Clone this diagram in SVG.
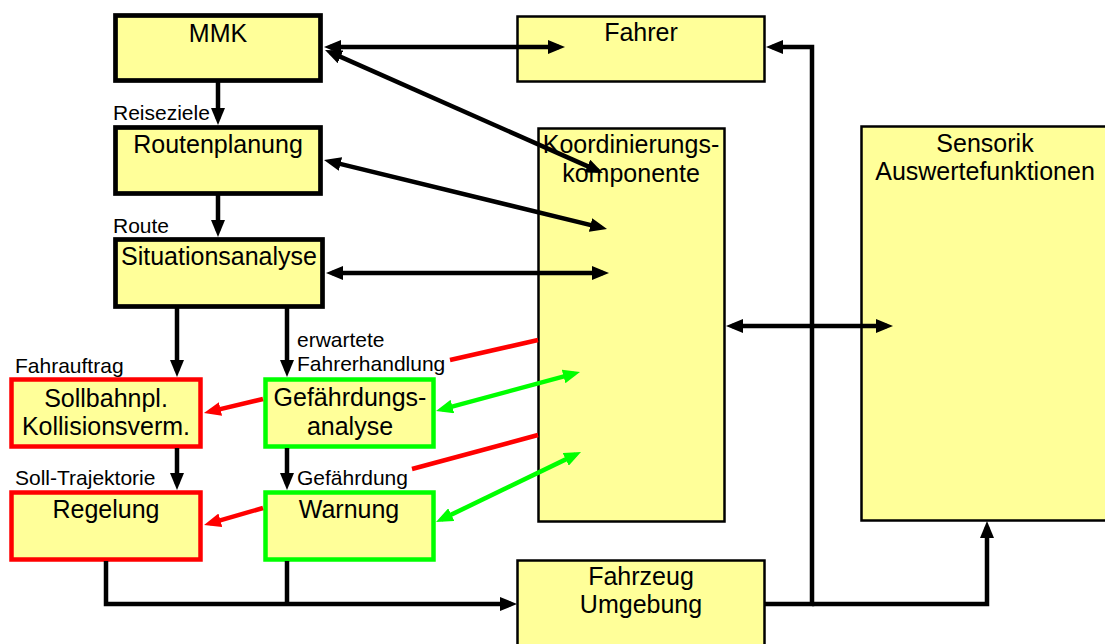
<svg xmlns="http://www.w3.org/2000/svg" width="1105" height="644" viewBox="0 0 1105 644">
<style>
text{font-family:"Liberation Sans",Arial,sans-serif;fill:#000}
.n{font-size:25px;text-anchor:middle}
.l{font-size:21px}
.box{fill:#ffff99}
.thick{stroke:#000;stroke-width:4.7}
.red{stroke:#ff0000;stroke-width:4.5}
.grn{stroke:#00ff00;stroke-width:4.5}
.thin{stroke:#000;stroke-width:2.5}
.c{fill:none;stroke-width:4.5}
.k{stroke:#000}
.r{stroke:#ff0000}
.g{stroke:#00ff00}
</style>
<defs>
<marker id="ak" markerUnits="userSpaceOnUse" markerWidth="17" markerHeight="14" viewBox="0 0 17 14" refX="11" refY="7" orient="auto-start-reverse"><path d="M0,0 L17,7 L0,14 z" fill="#000"/></marker>
<marker id="ar" markerUnits="userSpaceOnUse" markerWidth="17" markerHeight="14" viewBox="0 0 17 14" refX="11" refY="7" orient="auto-start-reverse"><path d="M0,0 L17,7 L0,14 z" fill="#ff0000"/></marker>
<marker id="ag" markerUnits="userSpaceOnUse" markerWidth="17" markerHeight="14" viewBox="0 0 17 14" refX="11" refY="7" orient="auto-start-reverse"><path d="M0,0 L17,7 L0,14 z" fill="#00ff00"/></marker>
</defs>
<rect width="1105" height="644" fill="#fff"/>
<g id="mmk"><rect class="box thick" x="115.5" y="15.5" width="205" height="65"/><text class="n" x="218" y="42">MMK</text></g>
<g id="routenplanung"><rect class="box thick" x="115.5" y="127.5" width="205" height="66"/><text class="n" x="218" y="153">Routenplanung</text></g>
<g id="situationsanalyse"><rect class="box thick" x="115.5" y="239.5" width="207" height="67"/><text class="n" x="219" y="265">Situationsanalyse</text></g>
<g id="sollbahnpl"><rect class="box red" x="11.5" y="379.5" width="189" height="67"/><text class="n" x="106" y="407">Sollbahnpl.</text><text class="n" x="106" y="435">Kollisionsverm.</text></g>
<g id="regelung"><rect class="box red" x="11.5" y="492.5" width="189" height="67"/><text class="n" x="106" y="518">Regelung</text></g>
<g id="gefaehrdungsanalyse"><rect class="box grn" x="265.5" y="379.5" width="168" height="67"/><text class="n" x="350" y="406">Gefährdungs-</text><text class="n" x="350" y="435">analyse</text></g>
<g id="warnung"><rect class="box grn" x="265.5" y="492.5" width="168" height="67"/><text class="n" x="349" y="518">Warnung</text></g>
<g id="fahrer"><rect class="box thin" x="517.5" y="16.5" width="247" height="65"/><text class="n" x="641" y="41">Fahrer</text></g>
<g id="koordinierung"><rect class="box thin" x="538.5" y="128.5" width="186" height="393"/><text class="n" x="631" y="153">Koordinierungs-</text><text class="n" x="631" y="182">komponente</text></g>
<g id="sensorik"><rect class="box thin" x="861.5" y="126.5" width="250" height="394"/><text class="n" x="985" y="152">Sensorik</text><text class="n" x="985" y="180">Auswertefunktionen</text></g>
<g id="fahrzeug"><rect class="box thin" x="517.5" y="560.5" width="247" height="90"/><text class="n" x="641" y="585">Fahrzeug</text><text class="n" x="641" y="613">Umgebung</text></g>
<g id="connectors">
<path class="c k" d="M330,47 H559" marker-start="url(#ak)" marker-end="url(#ak)"/>
<path class="c k" d="M330.5,52.4 L597.5,170.6" marker-start="url(#ak)" marker-end="url(#ak)"/>
<path class="c k" d="M329.8,161.4 L601.2,227.6" marker-start="url(#ak)" marker-end="url(#ak)"/>
<path class="c k" d="M332,273 H603" marker-start="url(#ak)" marker-end="url(#ak)"/>
<path class="c k" d="M732,326 H887" marker-start="url(#ak)" marker-end="url(#ak)"/>
<path class="c k" d="M218,82 V119" marker-end="url(#ak)"/>
<path class="c k" d="M218,195 V231" marker-end="url(#ak)"/>
<path class="c k" d="M177,308 V371" marker-end="url(#ak)"/>
<path class="c k" d="M287,308 V371" marker-end="url(#ak)"/>
<path class="c k" d="M177,448 V484" marker-end="url(#ak)"/>
<path class="c k" d="M287,448 V484" marker-end="url(#ak)"/>
<path class="c k" d="M106,561 V604 H511" marker-end="url(#ak)"/>
<path class="c k" d="M287,561 V604"/>
<path class="c k" d="M765,604 H812 V47 H772" marker-end="url(#ak)"/>
<path class="c k" d="M812,604 H987 V527" marker-end="url(#ak)"/>
<path class="c r" d="M263,399 L209.8,411.6" marker-end="url(#ar)"/>
<path class="c r" d="M263,508 L209.8,523.3" marker-end="url(#ar)"/>
<path class="c r" d="M450,360 L538,340"/>
<path class="c r" d="M412,469 L538,435"/>
<path class="c g" d="M441.8,409.4 L574.2,373.6" marker-start="url(#ag)" marker-end="url(#ag)"/>
<path class="c g" d="M441.4,519.4 L575.6,454.6" marker-start="url(#ag)" marker-end="url(#ag)"/>
</g>
<g id="labels">
<text class="l" x="113" y="120">Reiseziele</text>
<text class="l" x="113" y="233">Route</text>
<text class="l" x="15" y="373">Fahrauftrag</text>
<text class="l" x="297" y="347">erwartete</text>
<text class="l" x="297" y="371">Fahrerhandlung</text>
<text class="l" x="15" y="485">Soll-Trajektorie</text>
<text class="l" x="297" y="485">Gefährdung</text>
</g>
</svg>
